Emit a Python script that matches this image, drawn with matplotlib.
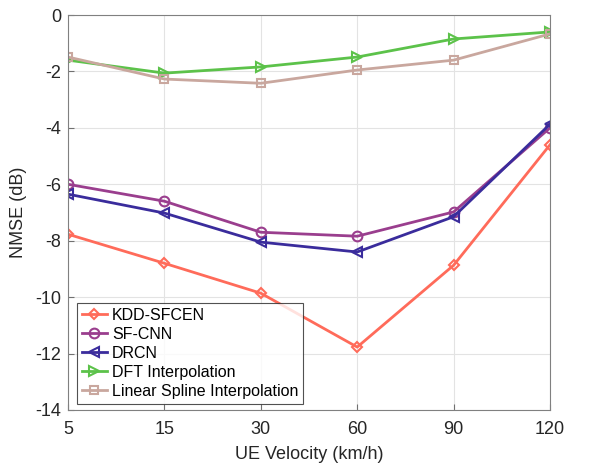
import matplotlib
matplotlib.use('Agg')
import matplotlib.pyplot as plt

plt.rcParams['font.family'] = ['Liberation Sans', 'DejaVu Sans']
plt.rcParams['axes.unicode_minus'] = False

velocity_labels = ['5', '15', '30', '60', '90', '120']
kdd_sfcen = [-7.77, -8.8, -9.86, -11.77, -8.87, -4.6]
sf_cnn = [-6.0, -6.6, -7.7, -7.84, -6.98, -4.0]
drcn = [-6.35, -7.02, -8.05, -8.4, -7.15, -3.87]
dft_interp = [-1.6, -2.06, -1.84, -1.49, -0.85, -0.6]
linear_spline = [-1.49, -2.27, -2.42, -1.95, -1.6, -0.67]

x = list(range(len(velocity_labels)))

fig = plt.figure(figsize=(6.06, 4.66), dpi=100)
ax = fig.add_axes([68/606, 1 - 410/466, (550-68)/606, (410-15)/466])

series = [
    (kdd_sfcen, 'KDD-SFCEN', '#FF6B5A', 'D'),
    (sf_cnn, 'SF-CNN', '#9A3E8E', 'o'),
    (drcn, 'DRCN', '#3A2C9C', '<'),
    (dft_interp, 'DFT Interpolation', '#5CC24A', '>'),
    (linear_spline, 'Linear Spline Interpolation', '#C9A79E', 's'),
]
for vals, name, col, mk in series:
    ms = 5.5 if mk in ('D', 's') else 7
    ax.plot(x, vals, color=col, lw=2, marker=mk, ms=ms, mfc='none', mew=1.5, label=name)

ax.set_xlim(0, 5)
ax.set_ylim(-14, 0)
ax.set_xticks(x)
ax.set_xticklabels(velocity_labels)
ax.set_yticks(range(-14, 1, 2))
ax.tick_params(direction='in', labelsize=13, labelcolor='#262626', colors='#707070',
               length=4, width=0.8)
ax.tick_params(axis='x', pad=8)
ax.tick_params(axis='y', pad=5)
for s in ax.spines.values():
    s.set_color('#808080')
    s.set_linewidth(0.8)
ax.grid(True, color='#E3E3E3', lw=0.8)
ax.set_axisbelow(True)
ax.set_xlabel('UE Velocity (km/h)', fontsize=13, color='#262626', labelpad=6)
ax.set_ylabel('NMSE (dB)', fontsize=13, color='#262626', labelpad=6)

leg = ax.legend(loc='lower left', fontsize=11.5, frameon=True, fancybox=False,
                edgecolor='#262626', borderaxespad=0.4, handlelength=1.6,
                handletextpad=0.3, labelspacing=0.25, borderpad=0.3,
                bbox_to_anchor=(0.005, 0.0))
leg.get_frame().set_linewidth(0.8)

fig.savefig('out.png', dpi=100)
